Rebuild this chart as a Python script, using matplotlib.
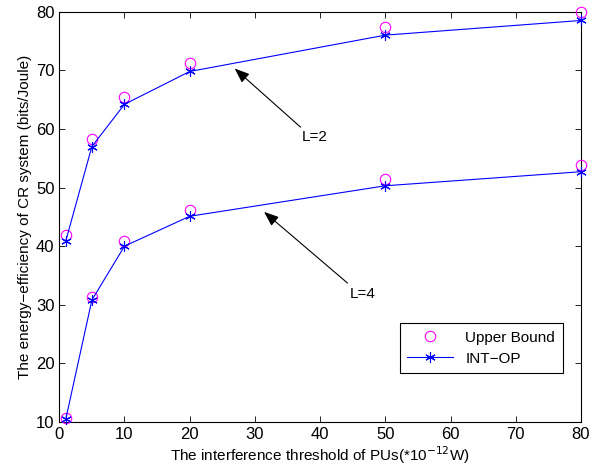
import numpy as np
import matplotlib
matplotlib.use('Agg')
import matplotlib.pyplot as plt

plt.rcParams['font.family'] = ['Liberation Sans', 'DejaVu Sans']

# interference threshold (x 1e-12 W)
thresholds = [1, 5, 10, 20, 50, 80]

# energy efficiency, L = 2
upper_L2 = [41.9, 58.2, 65.5, 71.2, 77.4, 80.0]
intop_L2 = [40.9, 57.0, 64.2, 69.8, 76.0, 78.5]

# energy efficiency, L = 4
upper_L4 = [10.7, 31.3, 40.9, 46.1, 51.4, 53.9]
intop_L4 = [10.5, 30.8, 40.0, 45.1, 50.3, 52.7]

xticks = [0, 10, 20, 30, 40, 50, 60, 70, 80]
yticks = [10, 20, 30, 40, 50, 60, 70, 80]

fig = plt.figure(figsize=(6.03, 4.73), dpi=100)
ax = fig.add_axes([0.0983, 0.1078, 0.8652, 0.8675])

star = (6, 2, 0)
ax.plot(thresholds, upper_L2, 'o', color='magenta', mfc='none', ms=7.5, mew=0.8,
        label='Upper Bound', clip_on=False, zorder=3)
ax.plot(thresholds, intop_L2, '-', color='blue', lw=0.8, marker=star, ms=7.5, mew=0.8,
        label='INT\u2212OP', clip_on=False, zorder=3)
ax.plot(thresholds, upper_L4, 'o', color='magenta', mfc='none', ms=7.5, mew=0.8,
        clip_on=False, zorder=3)
ax.plot(thresholds, intop_L4, '-', color='blue', lw=0.8, marker=star, ms=7.5, mew=0.8,
        clip_on=False, zorder=3)

arrow = dict(arrowstyle='-|>,head_length=0.9,head_width=0.35', color='k', lw=0.8,
             shrinkA=0, shrinkB=0)
ax.annotate('', xy=(26.9, 70.3), xytext=(37.0, 60.3), arrowprops=arrow)
ax.text(39.2, 58.7, 'L=2', fontsize=11, ha='center', va='center')
ax.annotate('', xy=(31.4, 45.85), xytext=(44.2, 33.7), arrowprops=arrow)
ax.text(46.5, 31.8, 'L=4', fontsize=11, ha='center', va='center')

ax.set_xlim(0, 80)
ax.set_ylim(10, 80)
ax.set_xticks(xticks)
ax.set_yticks(yticks)
ax.tick_params(direction='in', top=True, right=True, labelsize=12, length=4.5, width=0.6)
for s in ax.spines.values():
    s.set_linewidth(0.8)

ax.set_xlabel('The interference threshold of PUs(*10$^{\u221212}$W)', fontsize=11, labelpad=2)
ax.set_ylabel('The energy\u2212efficiency of CR system (bits/Joule)', fontsize=11, labelpad=3)

leg = ax.legend(loc='lower right', bbox_to_anchor=(0.965, 0.119), borderaxespad=0,
                fontsize=11, fancybox=False, framealpha=1, edgecolor='k',
                handlelength=3.0, borderpad=0.5, labelspacing=0.45)
leg.get_frame().set_linewidth(0.8)

fig.savefig('out.png', dpi=100)
